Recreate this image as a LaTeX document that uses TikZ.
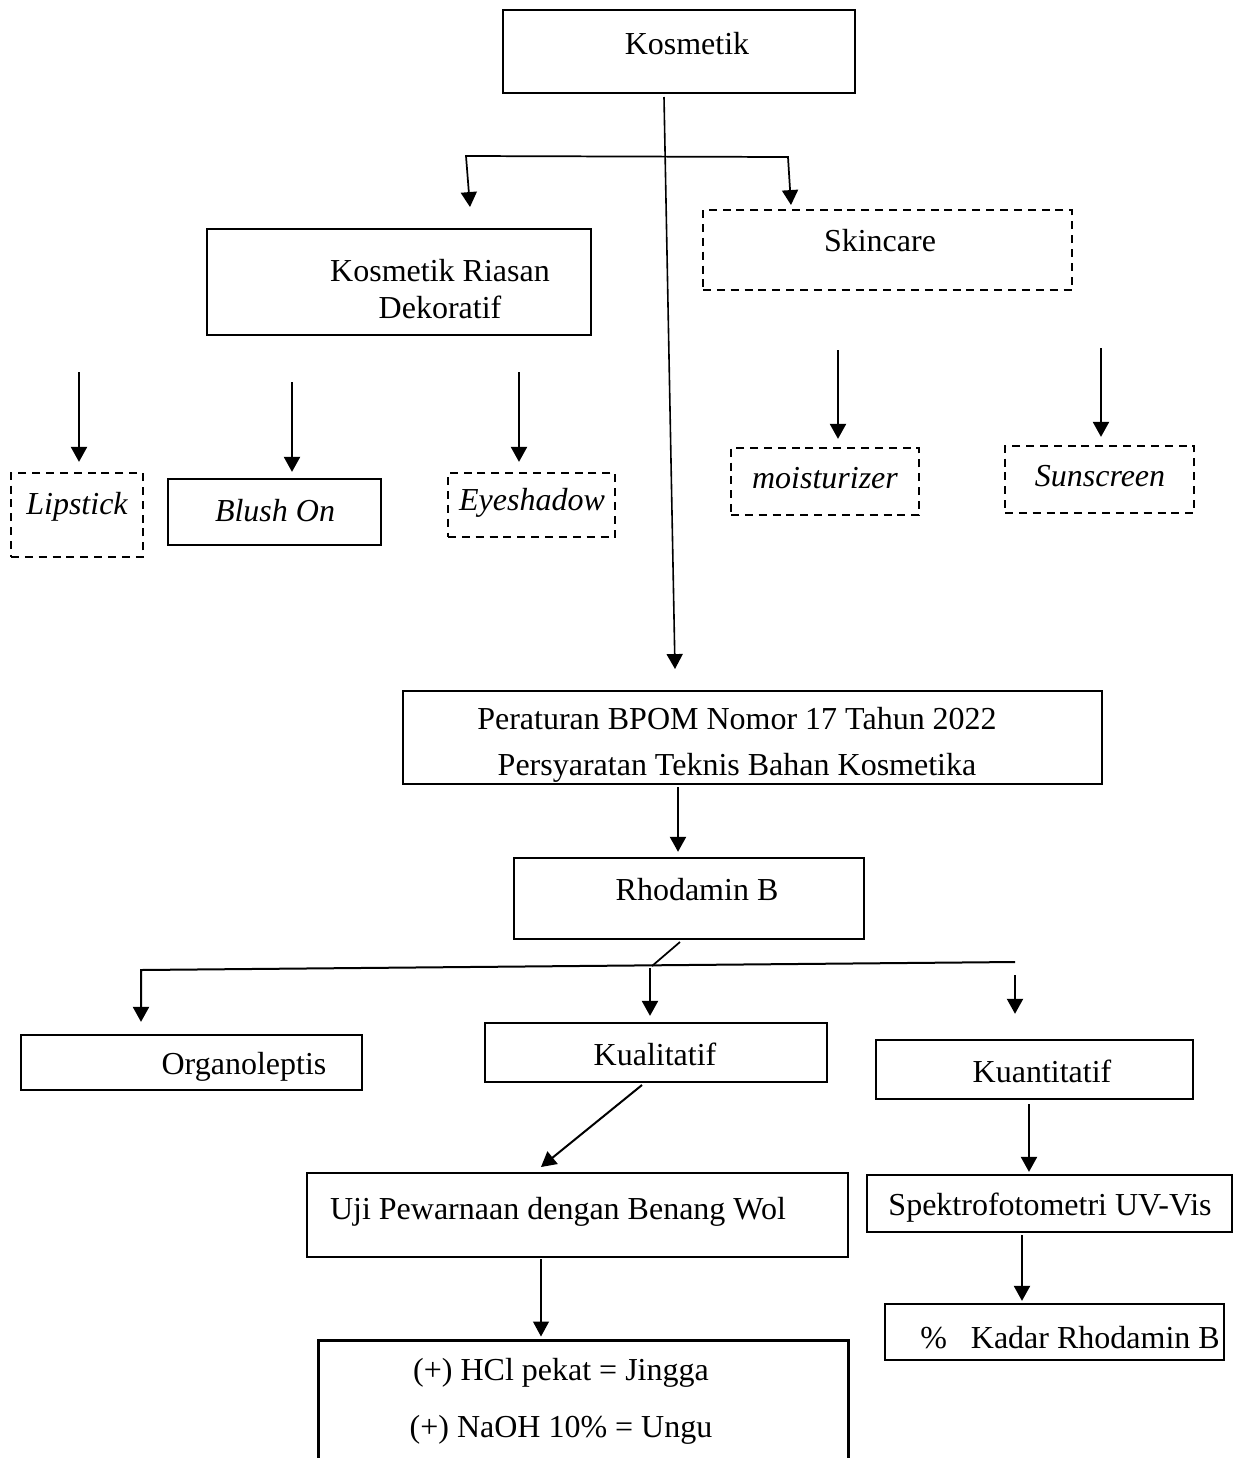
\documentclass[tikz,border=0pt]{standalone}
\usepackage{fontspec}
\setmainfont{Liberation Serif}
\usetikzlibrary{arrows.meta}

\tikzset{
	box/.style={draw, line width=0.85pt, inner sep=0pt},
	dbox/.style={box, dash pattern=on 3pt off 2.2pt},
	boxdim/.style 2 args={minimum width=#1*0.375pt, minimum height=#2*0.375pt},
	txt/.style={inner sep=0pt, align=center},
	itxt/.style={txt, font=\fontsize{12}{14}\selectfont\itshape},
	link/.style={line width=0.65pt},
	arr/.style={line width=0.75pt, -{Triangle[width=6pt, length=5.6pt]}},
}

\begin{document}
\begin{tikzpicture}[x=0.375pt, y=-0.375pt, font=\fontsize{12}{14}\selectfont]
	\useasboundingbox (0,0) rectangle (1236,1458);
	% boxes
	\node[box, boxdim={352}{83}] (kos) at (679,51.5) {};
	\node[box, boxdim={384}{106}] (rias) at (399,282) {};
	\node[dbox, boxdim={369}{80}] (skin) at (887.5,250) {};
	\node[dbox, boxdim={132}{84}] (lip) at (77,515) {};
	\node[box, boxdim={213}{66}] (blush) at (274.5,512) {};
	\node[dbox, boxdim={167}{64}] (eye) at (531.5,505) {};
	\node[dbox, boxdim={188}{67}] (moist) at (825,481.5) {};
	\node[dbox, boxdim={189}{67}] (sun) at (1099.5,479.5) {};
	\node[box, boxdim={699}{93}] (bpom) at (752.5,737.5) {};
	\node[box, boxdim={350}{81}] (rhod) at (689,898.5) {};
	\node[box, boxdim={341}{55}] (organ) at (191.5,1062.5) {};
	\node[box, boxdim={342}{59}] (kual) at (656,1052.5) {};
	\node[box, boxdim={317}{59}] (kuan) at (1034.5,1069.5) {};
	\node[box, boxdim={541}{84}] (uji) at (577.5,1215) {};
	\node[box, boxdim={365}{57}] (spek) at (1049.5,1203.5) {};
	\node[box, boxdim={339}{56}] (kadar) at (1054.5,1332) {};
	\node[inner sep=0pt, boxdim={529}{117}] (hasil) at (583.5,1399.5) {};
	\draw[line width=0.85pt] (hasil.south west) |- (hasil.north east) -- (hasil.south east);

	% texts
	\node[txt] (kosT) at (687,44) {Kosmetik};
	\node[txt, font=\fontsize{12}{13.9}\selectfont] (riasT) at (440,289) {Kosmetik Riasan\\Dekoratif};
	\node[txt] (skinT) at (880,241) {Skincare};
	\node[itxt] (lipT) at (77,507) {Lipstick};
	\node[itxt] (blushT) at (275,511) {Blush On};
	\node[itxt] (eyeT) at (532,503) {Eyeshadow};
	\node[itxt] (moistT) at (825,478) {moisturizer};
	\node[itxt] (sunT) at (1100,476) {Sunscreen};
	\node[txt, font=\fontsize{12}{17.25}\selectfont] (bpomT) at (737,745) {Peraturan BPOM Nomor 17 Tahun 2022\\Persyaratan Teknis Bahan Kosmetika};
	\node[txt] (rhodT) at (697,890) {Rhodamin B};
	\node[txt] (organT) at (244,1067) {Organoleptis};
	\node[txt] (kualT) at (655,1054) {Kualitatif};
	\node[txt] (kuanT) at (1042,1071) {Kuantitatif};
	\node[txt] (ujiT) at (558,1212) {Uji Pewarnaan dengan Benang Wol};
	\node[txt] (spekT) at (1050,1208) {Spektrofotometri UV-Vis};
	\node[txt] (kadarT) at (1070,1338) {\%\hspace{9pt}Kadar Rhodamin B};
	\node[txt, font=\fontsize{12}{21.4}\selectfont] (hasilT) at (561,1401.5) {(+) HCl pekat = Jingga\\(+) NaOH 10\% = Ungu};

	% connectors
	\coordinate (k0) at (664,97);
	\coordinate (k1) at (675,669);
	\coordinate (tl) at (466,156);
	\coordinate (tr) at (788,157);
	\coordinate (tipRias) at (470,207);
	\coordinate (tipSkin) at (791,205);
	\coordinate (aLip) at (79,372);
	\coordinate (aBlush) at (292,382);
	\coordinate (aEye) at (519,372);
	\coordinate (aMoist) at (838,350);
	\coordinate (aSun) at (1101,348);
	\coordinate (aBpom) at (678,787);
	\coordinate (r0) at (680,942);
	\coordinate (r1) at (652,966);
	\coordinate (hl) at (141,970);
	\coordinate (hr) at (1015,962);
	\coordinate (aKual) at (650,968);
	\coordinate (aQ) at (1015,975);
	\coordinate (u0) at (642,1085);
	\coordinate (u1) at (541,1167);
	\coordinate (aKuan) at (1029,1104);
	\coordinate (aSpek) at (1022,1235);
	\coordinate (aUji) at (541,1259);

	\draw[arr, line width=0.6pt] (k0) -- (k1);
	\draw[link, {Triangle[width=6pt, length=5.6pt]}-{Triangle[width=6pt, length=5.6pt]}] (tipRias) -- (tl) -- (tr) -- (tipSkin);
	\foreach \from/\to/\gap in {aLip/lip/3.75pt, aBlush/blush/2.25pt, aEye/eye/3.75pt, aMoist/moist/3pt, aSun/sun/3pt, aBpom/rhod/1.9pt, aKual/kual/2.25pt, aQ/kuan/9.4pt, aKuan/spek/0.75pt, aSpek/kadar/0.75pt}
		\draw[arr, shorten >=\gap] (\from) -- (\from |- \to.north);
	\draw[link] (r0) -- (r1);
	\draw[arr, shorten >=4.5pt] (hr) -- (hl) -- (hl |- organ.north);
	\draw[arr] (u0) -- (u1);
	\draw[arr, line width=0.4pt, shorten >=1.5pt] (aUji) -- (aUji |- hasil.north);
\end{tikzpicture}
\end{document}
